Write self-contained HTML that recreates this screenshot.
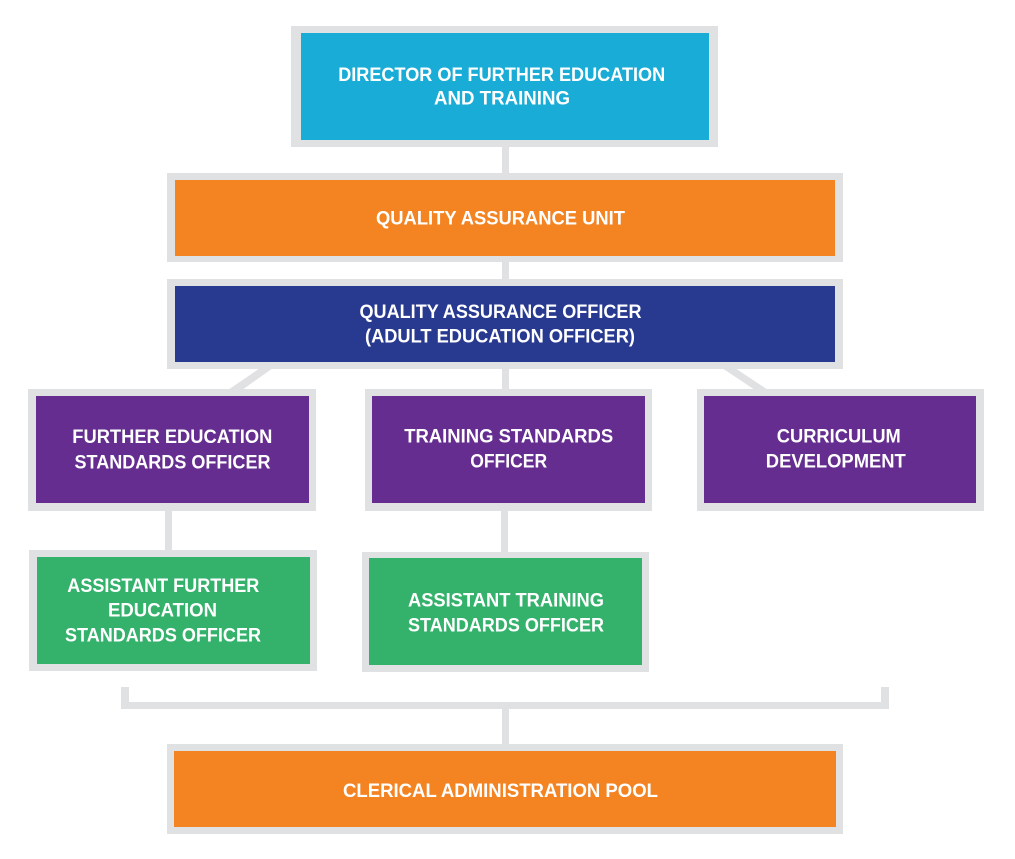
<!DOCTYPE html>
<html>
<head>
<meta charset="utf-8">
<style>
  html, body { margin: 0; padding: 0; background: #ffffff; }
  svg { display: block; }
  text { font-family: "Liberation Sans", Arial, sans-serif; font-weight: bold; font-size: 19px; fill: #ffffff; }
</style>
</head>
<body>
<svg width="1015" height="859" viewBox="0 0 1015 859" xmlns="http://www.w3.org/2000/svg">
  <rect x="0" y="0" width="1015" height="859" fill="#ffffff"/>

  <!-- connectors -->
  <g fill="#e0e1e3">
    <rect x="502" y="146" width="7" height="28"/>
    <rect x="502" y="261" width="7" height="19"/>
    <rect x="502" y="368" width="7" height="22"/>
    <rect x="501" y="510" width="7" height="43"/>
    <rect x="165" y="510" width="7" height="41"/>
    <polygon points="260,368 273,368 242,390 228,390"/>
    <polygon points="722,368 735,368 768,390 755,390"/>
    <rect x="121" y="702" width="768" height="7"/>
    <rect x="121" y="687" width="8" height="22"/>
    <rect x="881" y="687" width="8" height="22"/>
    <rect x="502" y="708" width="7" height="37"/>
  </g>

  <!-- Director -->
  <rect x="291" y="26" width="427" height="121" fill="#e0e1e3"/>
  <rect x="301" y="33" width="408" height="107" fill="#18acd6"/>
  <text x="501.7" y="81" text-anchor="middle" textLength="327" lengthAdjust="spacingAndGlyphs">DIRECTOR OF FURTHER EDUCATION</text>
  <text x="502" y="104.3" text-anchor="middle" textLength="136" lengthAdjust="spacingAndGlyphs">AND TRAINING</text>

  <!-- QA Unit -->
  <rect x="167" y="173" width="676" height="89" fill="#e0e1e3"/>
  <rect x="175" y="180" width="660" height="76" fill="#f48322"/>
  <text x="500.5" y="224.5" text-anchor="middle" textLength="249" lengthAdjust="spacingAndGlyphs">QUALITY ASSURANCE UNIT</text>

  <!-- QA Officer -->
  <rect x="167" y="279" width="676" height="90" fill="#e0e1e3"/>
  <rect x="175" y="286" width="660" height="76" fill="#283990"/>
  <text x="500.5" y="318" text-anchor="middle" textLength="282" lengthAdjust="spacingAndGlyphs">QUALITY ASSURANCE OFFICER</text>
  <text x="500" y="342.5" text-anchor="middle" textLength="270" lengthAdjust="spacingAndGlyphs">(ADULT EDUCATION OFFICER)</text>

  <!-- FE Standards Officer -->
  <rect x="28" y="389" width="288" height="122" fill="#e0e1e3"/>
  <rect x="36" y="396" width="273" height="107" fill="#652d8f"/>
  <text x="172.3" y="443" text-anchor="middle" textLength="200" lengthAdjust="spacingAndGlyphs">FURTHER EDUCATION</text>
  <text x="172.5" y="468.5" text-anchor="middle" textLength="196" lengthAdjust="spacingAndGlyphs">STANDARDS OFFICER</text>

  <!-- Training Standards Officer -->
  <rect x="365" y="389" width="287" height="122" fill="#e0e1e3"/>
  <rect x="372" y="396" width="273" height="107" fill="#652d8f"/>
  <text x="508.7" y="442.7" text-anchor="middle" textLength="209" lengthAdjust="spacingAndGlyphs">TRAINING STANDARDS</text>
  <text x="508.7" y="467.7" text-anchor="middle" textLength="77" lengthAdjust="spacingAndGlyphs">OFFICER</text>

  <!-- Curriculum Development -->
  <rect x="697" y="389" width="287" height="122" fill="#e0e1e3"/>
  <rect x="704" y="396" width="272" height="107" fill="#652d8f"/>
  <text x="838.8" y="442.3" text-anchor="middle" textLength="124" lengthAdjust="spacingAndGlyphs">CURRICULUM</text>
  <text x="835.8" y="467.3" text-anchor="middle" textLength="140" lengthAdjust="spacingAndGlyphs">DEVELOPMENT</text>

  <!-- Assistant FE Standards Officer -->
  <rect x="29" y="550" width="288" height="121" fill="#e0e1e3"/>
  <rect x="37" y="557" width="273" height="107" fill="#34b26c"/>
  <text x="163.3" y="592" text-anchor="middle" textLength="192" lengthAdjust="spacingAndGlyphs">ASSISTANT FURTHER</text>
  <text x="162.5" y="616.7" text-anchor="middle" textLength="109" lengthAdjust="spacingAndGlyphs">EDUCATION</text>
  <text x="163" y="641.7" text-anchor="middle" textLength="196" lengthAdjust="spacingAndGlyphs">STANDARDS OFFICER</text>

  <!-- Assistant Training Standards Officer -->
  <rect x="362" y="552" width="287" height="120" fill="#e0e1e3"/>
  <rect x="369" y="558" width="273" height="107" fill="#34b26c"/>
  <text x="506" y="606.7" text-anchor="middle" textLength="196" lengthAdjust="spacingAndGlyphs">ASSISTANT TRAINING</text>
  <text x="506" y="631.7" text-anchor="middle" textLength="196" lengthAdjust="spacingAndGlyphs">STANDARDS OFFICER</text>

  <!-- Clerical -->
  <rect x="167" y="744" width="676" height="90" fill="#e0e1e3"/>
  <rect x="174" y="751" width="662" height="76" fill="#f48322"/>
  <text x="500.5" y="797" text-anchor="middle" textLength="315" lengthAdjust="spacingAndGlyphs">CLERICAL ADMINISTRATION POOL</text>
</svg>
</body>
</html>
